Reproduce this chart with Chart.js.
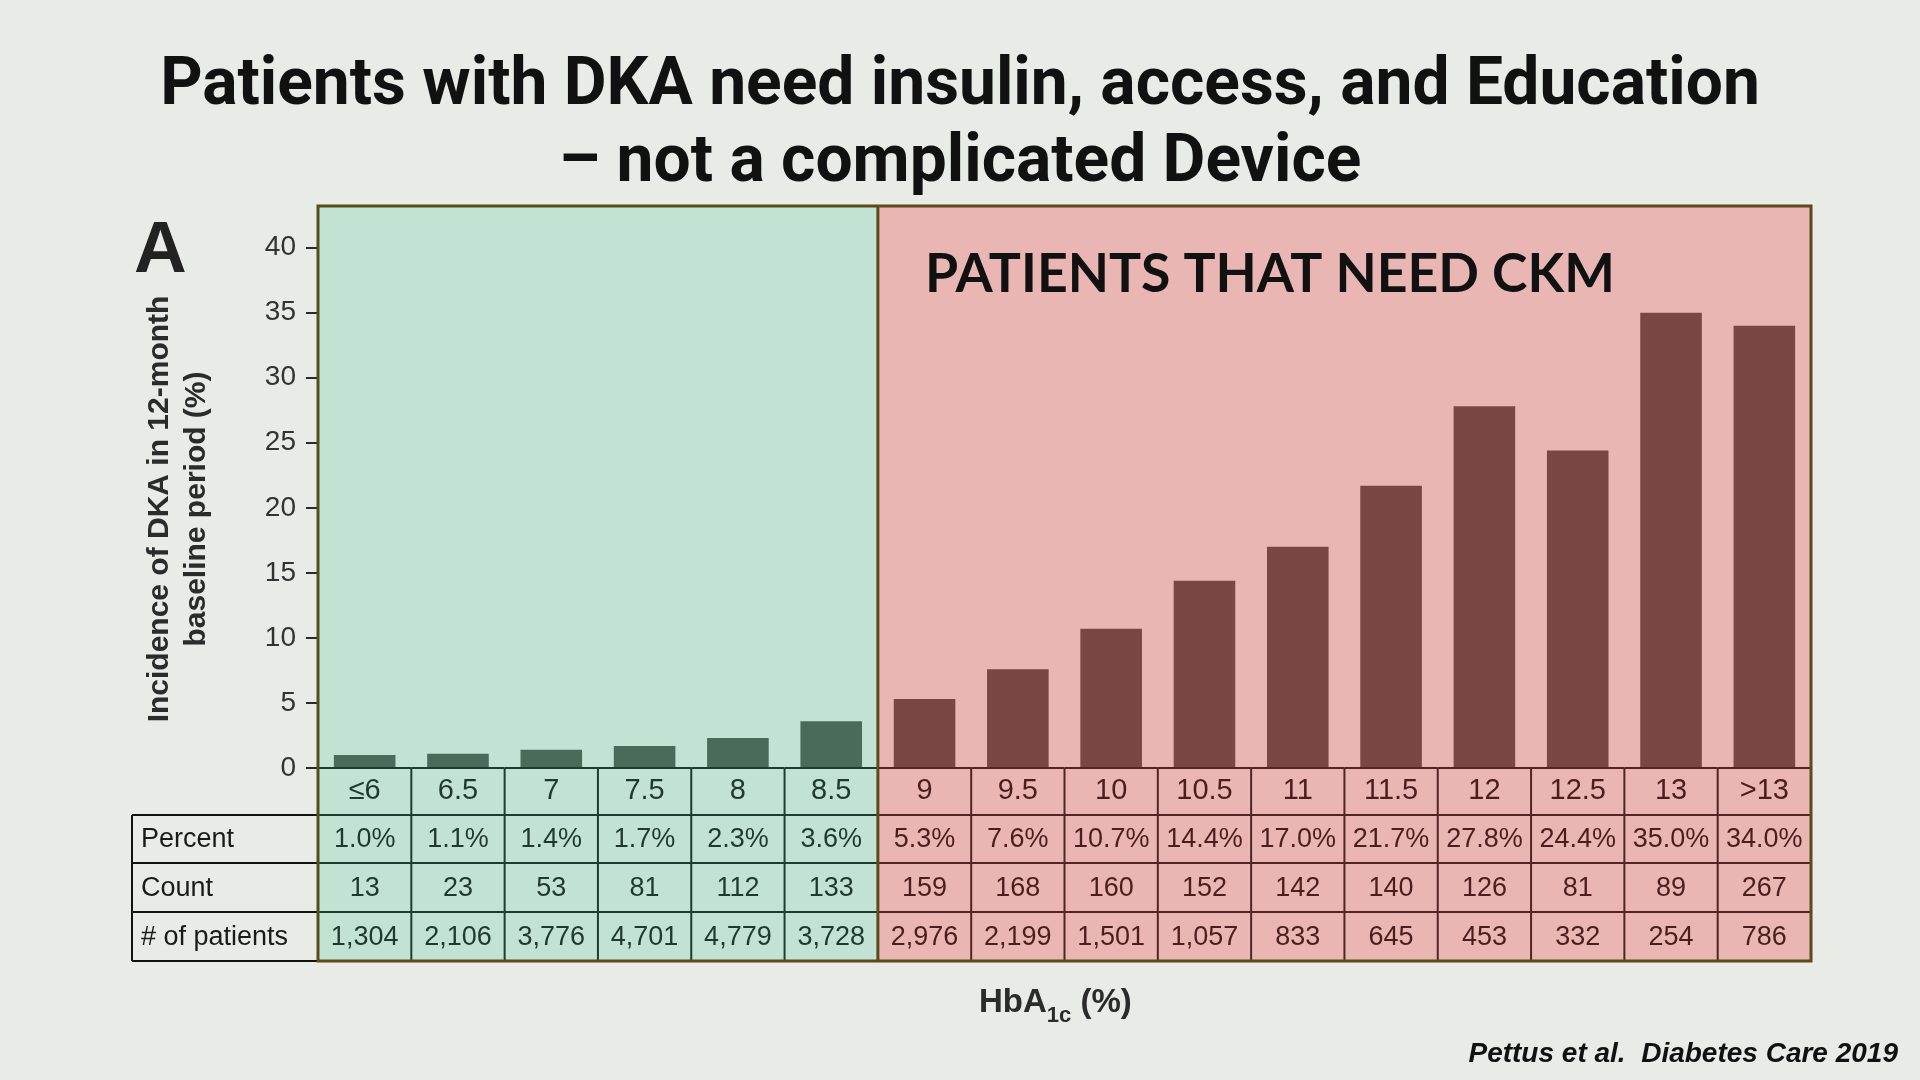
<!DOCTYPE html>
<html>
<head>
<meta charset="utf-8">
<script src="https://cdn.jsdelivr.net/npm/chart.js@4.4.1/dist/chart.umd.min.js"></script>
<style>
html,body{margin:0;padding:0;background:#e8ebe6;overflow:hidden}
canvas{display:block}
</style>
</head>
<body>
<canvas id="c" width="1920" height="1080"></canvas>
<script>
// ---------- DATA ----------
const categories = ['≤6','6.5','7','7.5','8','8.5','9','9.5','10','10.5','11','11.5','12','12.5','13','>13'];
const incidence  = [1.0,1.1,1.4,1.7,2.3,3.6,5.3,7.6,10.7,14.4,17.0,21.7,27.8,24.4,35.0,34.0];
const counts     = [13,23,53,81,112,133,159,168,160,152,142,140,126,81,89,267];
const patients   = [1304,2106,3776,4701,4779,3728,2976,2199,1501,1057,833,645,453,332,254,786];
const rowLabels  = ['Percent','Count','# of patients'];
const yTickValues = [0,5,10,15,20,25,30,35,40];
const ckmStartIndex = 6; // first category in the "PATIENTS THAT NEED CKM" panel

const titleLines = ['Patients with DKA need insulin, access, and Education','– not a complicated Device'];
const panelLabel = 'A';
const ckmLabel = 'PATIENTS THAT NEED CKM';
const yTitleLines = ['Incidence of DKA in 12-month','baseline period (%)'];
const citation = 'Pettus et al.  Diabetes Care 2019';

// ---------- STYLE ----------
const PAGE_BG='#e8ebe6', GREEN_BG='#c2e3d4', PINK_BG='#e9b6b3';
const GREEN_BAR='#4a6b5a', PINK_BAR='#7b4745';
const GREEN_LINE='#1f3d2e', PINK_LINE='#512525', BORDER='#5b4a1c';
const GREEN_TEXT='#1f3a2c', PINK_TEXT='#4a1e1e';
const ROW_OFFSETS=[0,47,95,144,193];
const LABEL_LEFT=132;

const percentText = incidence.map(v=>v.toFixed(1)+'%');
const countText = counts.map(v=>String(v));
const patientText = patients.map(v=>v.toLocaleString('en-US'));

function fitSize(ctx, text, weight, family, target){
  ctx.font = weight+' 100px '+family;
  return 100*target/ctx.measureText(text).width;
}
function geom(chart){
  const x = chart.scales.x, a = chart.chartArea;
  const half = (x.getPixelForValue(1)-x.getPixelForValue(0))/2;
  const split = x.getPixelForValue(ckmStartIndex)-half;
  const edges = ROW_OFFSETS.map(d=>a.bottom+d);
  return {x,a,half,split,edges};
}

const panelPlugin = {
  id:'panels',
  beforeDraw(chart){
    const ctx = chart.ctx; const {a,split,edges} = geom(chart);
    ctx.save();
    ctx.fillStyle=PAGE_BG; ctx.fillRect(0,0,chart.width,chart.height);
    ctx.fillStyle=GREEN_BG; ctx.fillRect(a.left,a.top,split-a.left,edges[4]-a.top);
    ctx.fillStyle=PINK_BG; ctx.fillRect(split,a.top,a.right-split,edges[4]-a.top);
    ctx.restore();
  }
};

const tablePlugin = {
  id:'table',
  afterDraw(chart){
    const ctx = chart.ctx; const {x,a,half,split,edges} = geom(chart);
    ctx.save();
    // data-column grid
    for(let i=0;i<categories.length;i++){
      const cx=x.getPixelForValue(i), l=cx-half, r=cx+half;
      ctx.strokeStyle = i<ckmStartIndex?GREEN_LINE:PINK_LINE; ctx.lineWidth=2;
      ctx.beginPath();
      for(let k=0;k<4;k++){ctx.moveTo(l,edges[k]);ctx.lineTo(r,edges[k]);}
      if(i>0 && i!==ckmStartIndex){ctx.moveTo(l,edges[0]);ctx.lineTo(l,edges[4]);}
      ctx.stroke();
    }
    // table values
    ctx.font='27px "Liberation Sans", Arial, sans-serif';
    ctx.textAlign='center'; ctx.textBaseline='middle';
    [percentText,countText,patientText].forEach((row,r)=>{
      const yc=(edges[r+1]+edges[r+2])/2+1;
      row.forEach((t,i)=>{ctx.fillStyle=i<ckmStartIndex?GREEN_TEXT:PINK_TEXT;ctx.fillText(t,x.getPixelForValue(i),yc);});
    });
    // label column
    ctx.strokeStyle='#111'; ctx.lineWidth=2;
    ctx.beginPath();
    for(let r=1;r<=4;r++){ctx.moveTo(LABEL_LEFT,edges[r]);ctx.lineTo(a.left,edges[r]);}
    ctx.moveTo(LABEL_LEFT,edges[1]);ctx.lineTo(LABEL_LEFT,edges[4]);
    ctx.stroke();
    ctx.fillStyle='#1a1a1a'; ctx.textAlign='left';
    rowLabels.forEach((t,r)=>ctx.fillText(t,LABEL_LEFT+9,(edges[r+1]+edges[r+2])/2+1));
    // outer border + split
    ctx.strokeStyle=BORDER; ctx.lineWidth=3;
    ctx.strokeRect(a.left,a.top,a.right-a.left,edges[4]-a.top);
    ctx.beginPath();ctx.moveTo(split,a.top);ctx.lineTo(split,edges[4]);ctx.stroke();

    // title
    ctx.fillStyle='#111'; ctx.textAlign='center'; ctx.textBaseline='alphabetic';
    const ts=fitSize(ctx,titleLines[0],'700','Roboto, "Noto Sans", sans-serif',1600);
    ctx.font='700 '+ts+'px Roboto, "Noto Sans", sans-serif';
    ctx.fillText(titleLines[0],960,104);
    ctx.fillText(titleLines[1],960,181);

    // panel letter
    ctx.fillStyle='#222'; ctx.textAlign='left';
    ctx.font='bold 73px "Liberation Sans", Arial, sans-serif';
    ctx.fillText(panelLabel,134,272);

    // CKM label
    ctx.fillStyle='#111';
    const cs=fitSize(ctx,ckmLabel,'700','Lato, sans-serif',690);
    ctx.font='700 '+cs+'px Lato, sans-serif';
    ctx.fillText(ckmLabel,925,292);

    // y title
    ctx.save();
    ctx.translate(0,509); ctx.rotate(-Math.PI/2);
    ctx.fillStyle='#2b2b2b'; ctx.textAlign='center';
    ctx.font='bold 30px "Liberation Sans", Arial, sans-serif';
    ctx.fillText(yTitleLines[0],0,168);
    ctx.fillText(yTitleLines[1],0,205);
    ctx.restore();

    // x title HbA1c (%)
    ctx.fillStyle='#2b2b2b'; ctx.textAlign='left';
    let xx=979;
    ctx.font='bold 33px "Liberation Sans", Arial, sans-serif';
    ctx.fillText('HbA',xx,1012); xx+=ctx.measureText('HbA').width;
    ctx.font='bold 22px "Liberation Sans", Arial, sans-serif';
    ctx.fillText('1c',xx,1022); xx+=ctx.measureText('1c').width;
    ctx.font='bold 33px "Liberation Sans", Arial, sans-serif';
    ctx.fillText(' (%)',xx,1012);

    // citation
    ctx.fillStyle='#111'; ctx.textAlign='right';
    ctx.font='italic bold 28px "Liberation Sans", Arial, sans-serif';
    ctx.fillText(citation,1898,1062);
    ctx.restore();
  }
};

function build(){
  new Chart(document.getElementById('c'),{
    type:'bar',
    data:{
      labels:categories,
      datasets:[{
        data:incidence,
        backgroundColor:categories.map((_,i)=>i<ckmStartIndex?GREEN_BAR:PINK_BAR),
        borderWidth:0,
        barPercentage:0.66,
        categoryPercentage:1.0
      }]
    },
    options:{
      responsive:false,
      devicePixelRatio:1,
      animation:false,
      events:[],
      layout:{padding:{left:0,top:206,right:109,bottom:265}},
      plugins:{legend:{display:false},tooltip:{enabled:false},title:{display:false}},
      scales:{
        x:{
          grid:{display:false,drawTicks:false},
          border:{display:false},
          ticks:{
            padding:6,
            maxRotation:0,autoSkip:false,
            font:{family:'"Liberation Sans", Arial, sans-serif',size:29},
            color:(c)=>c.index<ckmStartIndex?GREEN_TEXT:PINK_TEXT
          },
          afterFit:(s)=>{s.height=47;}
        },
        y:{
          min:0,max:43.2,
          grid:{drawOnChartArea:false,drawTicks:true,tickLength:12,color:'#2a2a2a',lineWidth:2},
          border:{display:false},
          afterBuildTicks:(s)=>{s.ticks=yTickValues.map(v=>({value:v}));},
          ticks:{
            padding:10,
            font:{family:'"Liberation Sans", Arial, sans-serif',size:28},
            color:'#333'
          },
          afterFit:(s)=>{s.width=318;}
        }
      }
    },
    plugins:[panelPlugin,tablePlugin]
  });
}
Promise.all([
  document.fonts.load('700 50px Roboto'),
  document.fonts.load('700 50px Lato'),
  document.fonts.load('27px "Liberation Sans"'),
  document.fonts.load('bold 27px "Liberation Sans"'),
  document.fonts.load('italic bold 27px "Liberation Sans"')
]).then(build,build);
</script>
</body>
</html>
